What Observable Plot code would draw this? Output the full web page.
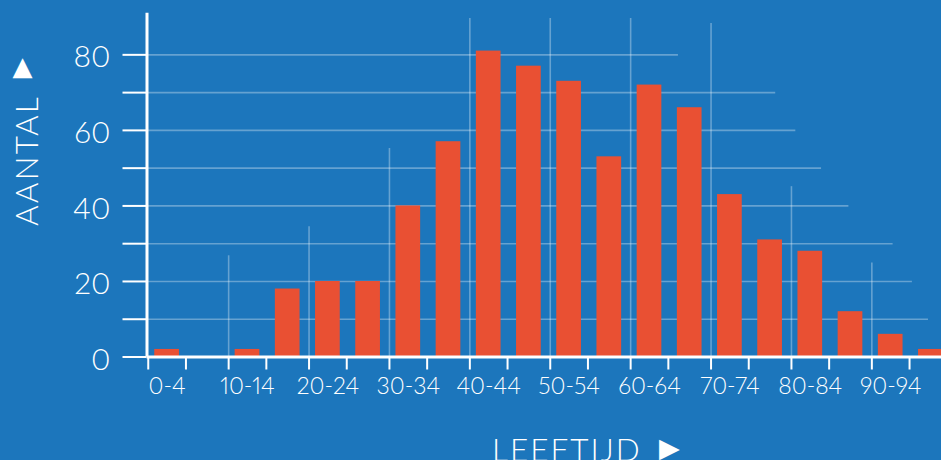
<!DOCTYPE html>
<html>
<head>
<meta charset="utf-8">
<script src="https://cdn.jsdelivr.net/npm/d3@7"></script>
<script src="https://cdn.jsdelivr.net/npm/@observablehq/plot@0.6"></script>
<style>
  html, body { margin: 0; padding: 0; background: #1c76bc; overflow: hidden; }
  #chart svg { display: block; }
</style>
</head>
<body>
<div id="chart"></div>
<script>
// ---- data ----
const ageGroups = ["0-4","5-9","10-14","15-19","20-24","25-29","30-34","35-39","40-44","45-49",
                   "50-54","55-59","60-64","65-69","70-74","75-79","80-84","85-89","90-94","95-99"];
const groupStart = [0,5,10,15,20,25,30,35,40,45,50,55,60,65,70,75,80,85,90,95];
const counts = [2,0,2,18,20,20,40,57,81,77,73,53,72,66,43,31,28,12,6,2];

const yTickValues = [0,10,20,30,40,50,60,70,80];
const yTickLabels = [0,20,40,60,80];
const xTickLabels = ["0-4","10-14","20-24","30-34","40-44","50-54","60-64","70-74","80-84","90-94"];

// decorative grid: horizontal lines (value, right end in years), vertical lines (group, top value)
const hGridValues = [10,20,30,40,50,60,70,80];
const hGridEnds = [97.2,95.2,92.8,87.3,83.9,80.7,78.2,66.1];
const vGridGroups = ["10-14","20-24","30-34","40-44","50-54","60-64","70-74","80-84","90-94"];
const vGridTops = [26.8,34.5,55.2,89.6,89.6,89.6,88.3,45.1,24.9];

const yTitle = "AANTAL";
const xTitle = "LEEFTIJD";

// ---- derived tables ----
const bars = ageGroups.map((g, i) => ({group: g, start: groupStart[i], end: groupStart[i] + 5, count: counts[i]}));
const center = d => (d.start + d.end) / 2;
const labelled = bars.filter(d => xTickLabels.includes(d.group));
const hGrid = hGridValues.map((v, i) => ({value: v, end: hGridEnds[i]}));
const vGrid = vGridGroups.map((g, i) => ({...bars[ageGroups.indexOf(g)], top: vGridTops[i]}));
const labelByCenter = new Map(labelled.map(d => [center(d), d.group]));

const GRID = {stroke: "white", strokeOpacity: 0.32, strokeWidth: 1.6};
const TICK_OFF = 18.85;

const chart = Plot.plot({
  width: 941,
  height: 460,
  marginLeft: 146.5,
  marginRight: 0,
  marginTop: 13,
  marginBottom: 103.5,
  style: {background: "#1c76bc", color: "white", fontFamily: "Lato, sans-serif", overflow: "visible"},
  x: {domain: [0, 100], range: [146.5, 950.5]},
  y: {domain: [0, 91], range: [356.5, 12.8]},
  marks: [
    Plot.ruleY(hGrid, {y: "value", x1: 0, x2: "end", ...GRID}),
    Plot.ruleX(vGrid, {x: center, dx: -TICK_OFF, y1: 0, y2: "top", ...GRID}),
    Plot.rectY(bars, {x1: "start", x2: "end", y: "count", fill: "#e95033", insetLeft: 7.75, insetRight: 7.75}),
    Plot.ruleY([0], {x1: 0, x2: 100, stroke: "white", strokeWidth: 3}),
    Plot.ruleX([0], {y1: 0, y2: 91, stroke: "white", strokeWidth: 3}),
    // y ticks
    Plot.axisY({ticks: yTickValues, tickSize: 24, fill: "none", stroke: "white", strokeWidth: 2, label: null}),
    // y labels
    Plot.axisY({ticks: yTickLabels, tickSize: 24, tickPadding: 12.5, stroke: "none", fill: "white",
                fontSize: 30, fontWeight: 300, dy: 3, label: null}),
    // x ticks (both sides of each labelled group)
    Plot.axisX({ticks: labelled.map(center), tickSize: 13, dx: -TICK_OFF, fill: "none", stroke: "white", strokeWidth: 2, label: null}),
    Plot.axisX({ticks: labelled.map(center), tickSize: 13, dx: TICK_OFF, fill: "none", stroke: "white", strokeWidth: 2, label: null}),
    // x labels
    Plot.axisX({ticks: labelled.map(center), tickFormat: v => labelByCenter.get(v), tickSize: 0, tickPadding: 21,
                stroke: "none", fill: "white", fontSize: 23, fontWeight: 300, label: null})
  ]
});

const svg = d3.select(chart);
svg.selectAll("text").style("font-variant-numeric", "proportional-nums");

// axis titles
svg.append("text")
  .attr("transform", "translate(37.7,226) rotate(-90)")
  .attr("fill", "white").attr("font-family", "Lato, sans-serif").attr("font-weight", 300)
  .attr("font-size", 31.5).attr("letter-spacing", 2.2).attr("text-anchor", "start")
  .text(yTitle);
svg.append("text")
  .attr("x", 22.5).attr("y", 66).attr("dominant-baseline", "central")
  .attr("fill", "white").attr("font-family", "DejaVu Sans, sans-serif")
  .attr("font-size", 26).attr("text-anchor", "middle")
  .text("▲");
svg.append("text")
  .attr("x", 669.5).attr("y", 447).attr("dominant-baseline", "central")
  .attr("fill", "white").attr("font-family", "DejaVu Sans, sans-serif")
  .attr("font-size", 27).attr("text-anchor", "middle")
  .text("▶");
svg.append("text")
  .attr("x", 492).attr("y", 461)
  .attr("fill", "white").attr("font-family", "Lato, sans-serif").attr("font-weight", 300)
  .attr("font-size", 31.5).attr("letter-spacing", 2).attr("text-anchor", "start")
  .text(xTitle);

document.getElementById("chart").appendChild(chart);
</script>
</body>
</html>
